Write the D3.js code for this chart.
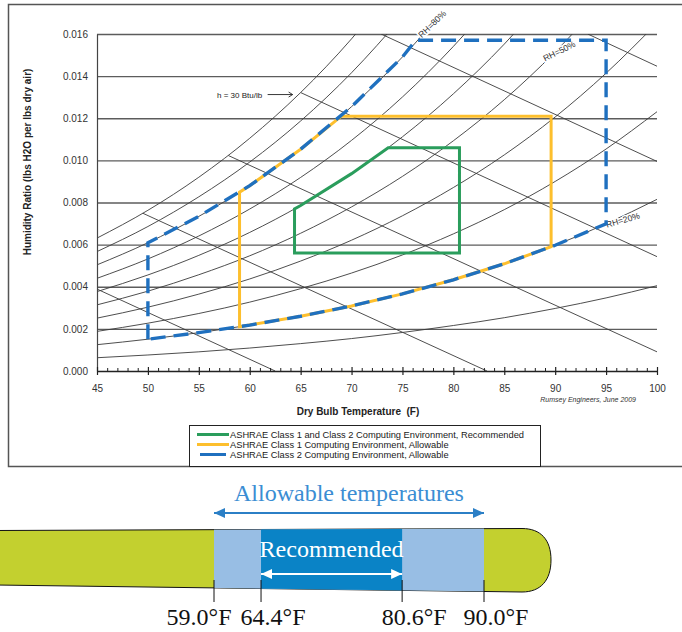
<!DOCTYPE html>
<html>
<head>
<meta charset="utf-8">
<script src="https://cdn.jsdelivr.net/npm/d3@7"></script>
<style>
  body { margin: 0; background: #fff; }
  svg { display: block; }
  .sans { font-family: "Liberation Sans", Arial, sans-serif; }
  .serif { font-family: "Liberation Serif", "Times New Roman", serif; }
</style>
</head>
<body>
<svg id="chart" width="682" height="632"></svg>
<script>
// Psychrometric chart with the ASHRAE envelopes, plus the temperature strip below.

var tempTicks = [45, 50, 55, 60, 65, 70, 75, 80, 85, 90, 95, 100];
var humidityTicks = [0, 0.002, 0.004, 0.006, 0.008, 0.010, 0.012, 0.014, 0.016];

var curveTemps = [45, 50, 55, 60, 65, 70, 75, 80, 85, 90, 95, 100];
var rh100 = [0.00631, 0.00763, 0.00920, 0.01105, 0.01322, 0.01577, 0.01876];
var rh90 = [0.00567, 0.00686, 0.00827, 0.00992, 0.01187, 0.01416, 0.01683];
var rh80 = [0.00504, 0.00609, 0.00734, 0.00880, 0.01053, 0.01255, 0.01491, 0.01767];
var rh70 = [0.00440, 0.00532, 0.00641, 0.00769, 0.00919, 0.01095, 0.01301, 0.01541, 0.01818];
var rh60 = [0.00377, 0.00456, 0.00549, 0.00658, 0.00786, 0.00937, 0.01112, 0.01316, 0.01552, 0.01827];
var rh50 = [0.00314, 0.00379, 0.00457, 0.00547, 0.00654, 0.00779, 0.00924, 0.01093, 0.01288, 0.01515, 0.01777];
var rh40 = [0.00251, 0.00303, 0.00365, 0.00437, 0.00522, 0.00621, 0.00737, 0.00871, 0.01026, 0.01206, 0.01414, 0.01652];
var rh30 = [0.00188, 0.00227, 0.00273, 0.00327, 0.00391, 0.00465, 0.00551, 0.00651, 0.00766, 0.00900, 0.01054, 0.01231];
var rh20 = [0.00125, 0.00151, 0.00182, 0.00218, 0.00260, 0.00309, 0.00366, 0.00433, 0.00509, 0.00597, 0.00699, 0.00815];
var rh10 = [0.00063, 0.00076, 0.00091, 0.00109, 0.00130, 0.00154, 0.00183, 0.00216, 0.00253, 0.00297, 0.00347, 0.00405];
var rhCurves = [rh100, rh90, rh80, rh70, rh60, rh50, rh40, rh30, rh20, rh10];

// constant enthalpy lines (Btu/lb), straight, [temp, humidity ratio] ends
var enthalpyValues = [15, 20, 25, 30, 35, 40];
var enthalpyFrom = [[45, 0.00389], [49.5, 0.00749], [57.9, 0.01023], [65, 0.01322], [72.9, 0.016], [93.2, 0.016]];
var enthalpyTo = [[62.5, 0], [83.3, 0], [100, 0.00091], [100, 0.00543], [100, 0.00995], [100, 0.01447]];

// envelopes, [dry bulb F, humidity ratio]
var recommended = [[64.4, 0.0056], [80.6, 0.0056], [80.6, 0.0106], [73.6, 0.0106], [70, 0.00937], [65, 0.00786], [64.4, 0.0077]];
var class1Allowable = [[59, 0.0021], [59, 0.00849], [60, 0.0088], [65, 0.01053], [69, 0.0121], [89.6, 0.0121],
  [89.6, 0.0059], [85, 0.00509], [80, 0.00433], [75, 0.00366], [70, 0.00309], [65, 0.0026], [60, 0.00218]];
var class2Allowable = [[50, 0.00151], [50, 0.00609], [55, 0.00734], [60, 0.0088], [65, 0.01053], [70, 0.01255],
  [75, 0.01491], [76.3, 0.0157], [95, 0.0157], [95, 0.00699], [90, 0.00597], [85, 0.00509], [80, 0.00433],
  [75, 0.00366], [70, 0.00309], [65, 0.0026], [60, 0.00218], [55, 0.00182]];

var legendLabels = [
  'ASHRAE Class 1 and Class 2 Computing Environment, Recommended',
  'ASHRAE Class 1 Computing Environment, Allowable',
  'ASHRAE Class 2 Computing Environment, Allowable'
];
var legendColors = ['#2a9d5c', '#fdbf2d', '#1f70bf'];

var stripTemps = [59.0, 64.4, 80.6, 90.0];

var svg = d3.select('#chart');
var defs = svg.append('defs');

var x = d3.scaleLinear().domain([45, 100]).range([97, 657]);
var y = d3.scaleLinear().domain([0, 0.016]).range([371, 34]);

defs.append('clipPath').attr('id', 'plotClip')
  .append('rect')
  .attr('x', x(45)).attr('y', y(0.016))
  .attr('width', x(100) - x(45)).attr('height', y(0) - y(0.016));

// outer frame
svg.append('path')
  .attr('d', 'M682,4.5H8.5V466.5H682')
  .attr('fill', 'none')
  .attr('stroke', '#555')
  .attr('stroke-width', 1.5);

// horizontal grid
var grid = svg.append('g')
  .attr('transform', 'translate(' + x(45) + ',0)')
  .call(d3.axisLeft(y).tickValues(humidityTicks.slice(1)).tickSize(-(x(100) - x(45))).tickFormat(''));
grid.select('.domain').remove();
grid.selectAll('line').attr('stroke', '#5c5c5c').attr('stroke-width', 1.4);

var psych = svg.append('g').attr('clip-path', 'url(#plotClip)');

var curveLine = d3.line()
  .x(function(d) { return x(d[0]); })
  .y(function(d) { return y(d[1]); })
  .curve(d3.curveMonotoneX);

rhCurves.forEach(function(w) {
  var pts = w.map(function(v, i) { return [curveTemps[i], v]; });
  psych.append('path')
    .attr('d', curveLine(pts))
    .attr('fill', 'none')
    .attr('stroke', '#3a3a3a')
    .attr('stroke-width', 0.9);
});

enthalpyValues.forEach(function(h, i) {
  psych.append('line')
    .attr('x1', x(enthalpyFrom[i][0])).attr('y1', y(enthalpyFrom[i][1]))
    .attr('x2', x(enthalpyTo[i][0])).attr('y2', y(enthalpyTo[i][1]))
    .attr('stroke', '#3a3a3a')
    .attr('stroke-width', 0.9);
});

// RH labels sit on their curves with a white halo
function rhLabel(text, px, py, angle) {
  svg.append('text')
    .attr('class', 'sans')
    .attr('transform', 'translate(' + px + ',' + py + ') rotate(' + angle + ')')
    .attr('font-size', 8.6)
    .attr('fill', '#333')
    .attr('stroke', '#fff')
    .attr('stroke-width', 3)
    .attr('paint-order', 'stroke')
    .text(text);
}
rhLabel('RH=80%', x(76.9), y(0.0158), -44);
rhLabel('RH=50%', x(89.0), y(0.0147), -26);
rhLabel('RH=20%', x(95.1), y(0.0068), -16);

// h = 30 label with arrow pointing at its line
svg.append('text')
  .attr('class', 'sans')
  .attr('x', 217).attr('y', 98)
  .attr('font-size', 8)
  .attr('fill', '#222')
  .text('h = 30 Btu/lb');
var hx = x(enthalpyFrom[3][0]) - 8, hy = y(enthalpyFrom[3][1]) + 2;
svg.append('path')
  .attr('d', 'M' + (hx - 25) + ',' + hy + 'H' + hx + 'M' + (hx - 4) + ',' + (hy - 2.5) + 'L' + hx + ',' + hy + 'L' + (hx - 4) + ',' + (hy + 2.5))
  .attr('fill', 'none')
  .attr('stroke', '#222')
  .attr('stroke-width', 0.9);

// envelopes
var polyLine = d3.line()
  .x(function(d) { return x(d[0]); })
  .y(function(d) { return y(d[1]); })
  .curve(d3.curveLinearClosed);

svg.append('path')
  .attr('d', polyLine(class1Allowable))
  .attr('fill', 'none')
  .attr('stroke', legendColors[1])
  .attr('stroke-width', 3);

svg.append('path')
  .attr('d', polyLine(recommended))
  .attr('fill', 'none')
  .attr('stroke', legendColors[0])
  .attr('stroke-width', 3);

svg.append('path')
  .attr('d', polyLine(class2Allowable))
  .attr('fill', 'none')
  .attr('stroke', legendColors[2])
  .attr('stroke-width', 3.4)
  .attr('stroke-dasharray', '15 8');

// axes
var yAxis = svg.append('g')
  .attr('class', 'sans')
  .attr('transform', 'translate(' + x(45) + ',0)')
  .call(d3.axisLeft(y).tickValues(humidityTicks).tickSize(0).tickPadding(9).tickFormat(d3.format('.3f')));
yAxis.select('.domain').attr('stroke', '#444').attr('stroke-width', 1.2);
yAxis.selectAll('text').attr('font-size', 10).attr('fill', '#333').attr('font-family', null);

var minorTicks = d3.range(45, 101).filter(function(t) { return t % 5 !== 0; });
var xMinor = svg.append('g')
  .attr('transform', 'translate(0,' + y(0) + ')')
  .call(d3.axisTop(x).tickValues(minorTicks).tickSize(3).tickFormat(''));
xMinor.select('.domain').remove();
xMinor.selectAll('line').attr('stroke', '#222');

var xAxis = svg.append('g')
  .attr('class', 'sans')
  .attr('transform', 'translate(0,' + y(0) + ')')
  .call(d3.axisBottom(x).tickValues(tempTicks).tickSizeInner(4).tickSizeOuter(0).tickPadding(10).tickFormat(d3.format('d')));
xAxis.select('.domain').attr('stroke', '#222').attr('stroke-width', 1.5);
xAxis.selectAll('.tick line').attr('y1', -4).attr('stroke', '#222').attr('stroke-width', 1.2);
xAxis.selectAll('text').attr('font-size', 10).attr('fill', '#333').attr('font-family', null);

svg.append('text')
  .attr('class', 'sans')
  .attr('transform', 'translate(31,162) rotate(-90)')
  .attr('text-anchor', 'middle')
  .attr('font-size', 10)
  .attr('font-weight', 'bold')
  .attr('fill', '#222')
  .text('Humidity Ratio (lbs H2O per lbs dry air)');

svg.append('text')
  .attr('class', 'sans')
  .attr('x', 358).attr('y', 415)
  .attr('text-anchor', 'middle')
  .attr('font-size', 10)
  .attr('font-weight', 'bold')
  .attr('fill', '#222')
  .attr('xml:space', 'preserve')
  .text('Dry Bulb Temperature  (F)');

svg.append('text')
  .attr('class', 'sans')
  .attr('x', 636).attr('y', 402)
  .attr('text-anchor', 'end')
  .attr('font-size', 7)
  .attr('font-style', 'italic')
  .attr('fill', '#333')
  .text('Rumsey Engineers, June 2009');

// legend
var legend = svg.append('g').attr('class', 'sans');
legend.append('rect')
  .attr('x', 189.5).attr('y', 425.5)
  .attr('width', 351).attr('height', 41)
  .attr('fill', '#fff')
  .attr('stroke', '#222');
legendLabels.forEach(function(label, i) {
  var ly = 434.5 + i * 10;
  var inset = i === 2 ? 3 : 0;
  legend.append('line')
    .attr('x1', 197 + inset).attr('x2', 229 - inset)
    .attr('y1', ly).attr('y2', ly)
    .attr('stroke', legendColors[i])
    .attr('stroke-width', 3);
  legend.append('text')
    .attr('x', 230).attr('y', ly + 3.2)
    .attr('font-size', 9.3)
    .attr('fill', '#1a1a1a')
    .text(label);
});

// temperature strip
var tx = d3.scaleLinear().domain(d3.extent(stripTemps)).range([214, 484]);

var barPath = 'M-5,530.5L522,528.5C541,528.5 551,540 551,560C551,580 541,592 522,592L-5,585Z';
defs.append('clipPath').attr('id', 'barClip').append('path').attr('d', barPath);

svg.append('path')
  .attr('d', barPath)
  .attr('fill', '#c3d02f')
  .attr('stroke', '#111')
  .attr('stroke-width', 1);

var bands = svg.append('g').attr('clip-path', 'url(#barClip)');
bands.append('rect')
  .attr('x', tx(stripTemps[0])).attr('y', 520)
  .attr('width', tx(stripTemps[3]) - tx(stripTemps[0])).attr('height', 80)
  .attr('fill', '#98bee4');
bands.append('rect')
  .attr('x', tx(stripTemps[1])).attr('y', 520)
  .attr('width', tx(stripTemps[2]) - tx(stripTemps[1])).attr('height', 80)
  .attr('fill', '#0a83c6');

function arrowMarker(id, color) {
  defs.append('marker')
    .attr('id', id)
    .attr('viewBox', '0 0 11 10')
    .attr('refX', 11).attr('refY', 5)
    .attr('markerWidth', 11).attr('markerHeight', 10)
    .attr('markerUnits', 'userSpaceOnUse')
    .attr('orient', 'auto-start-reverse')
    .append('path')
    .attr('d', 'M0,0L11,5L0,10Z')
    .attr('fill', color);
}
arrowMarker('arrowBlue', '#2b7fc6');
arrowMarker('arrowWhite', '#fff');

svg.append('line')
  .attr('x1', tx(stripTemps[0])).attr('x2', tx(stripTemps[3]))
  .attr('y1', 513).attr('y2', 513)
  .attr('stroke', '#2b7fc6').attr('stroke-width', 2)
  .attr('marker-start', 'url(#arrowBlue)').attr('marker-end', 'url(#arrowBlue)');

svg.append('line')
  .attr('x1', tx(stripTemps[1])).attr('x2', tx(stripTemps[2]))
  .attr('y1', 574).attr('y2', 574)
  .attr('stroke', '#fff').attr('stroke-width', 2)
  .attr('marker-start', 'url(#arrowWhite)').attr('marker-end', 'url(#arrowWhite)');

svg.append('text')
  .attr('class', 'serif')
  .attr('x', (tx(stripTemps[0]) + tx(stripTemps[3])) / 2).attr('y', 501)
  .attr('text-anchor', 'middle')
  .attr('font-size', 24)
  .attr('fill', '#3b8dd3')
  .text('Allowable temperatures');

svg.append('text')
  .attr('class', 'serif')
  .attr('x', (tx(stripTemps[1]) + tx(stripTemps[2])) / 2).attr('y', 557)
  .attr('text-anchor', 'middle')
  .attr('font-size', 24)
  .attr('fill', '#fff')
  .text('Recommended');

stripTemps.forEach(function(t) {
  svg.append('line')
    .attr('x1', tx(t)).attr('x2', tx(t))
    .attr('y1', 580).attr('y2', 602)
    .attr('stroke', '#111').attr('stroke-width', 1);
});

// labels sit slightly right of their ticks, pushed apart where they collide
var labelW = 64, labelGap = 10;
var centers = stripTemps.map(function(t) { return tx(t) + 12; });
for (var i = centers.length - 2; i >= 0; i--) {
  if (centers[i] + labelW / 2 + labelGap > centers[i + 1] - labelW / 2) {
    centers[i] = centers[i + 1] - labelW - labelGap;
  }
}
stripTemps.forEach(function(t, i) {
  svg.append('text')
    .attr('class', 'serif')
    .attr('x', centers[i]).attr('y', 625)
    .attr('text-anchor', 'middle')
    .attr('font-size', 24)
    .attr('fill', '#111')
    .text(d3.format('.1f')(t) + '\u00b0F');
});
</script>
</body>
</html>
